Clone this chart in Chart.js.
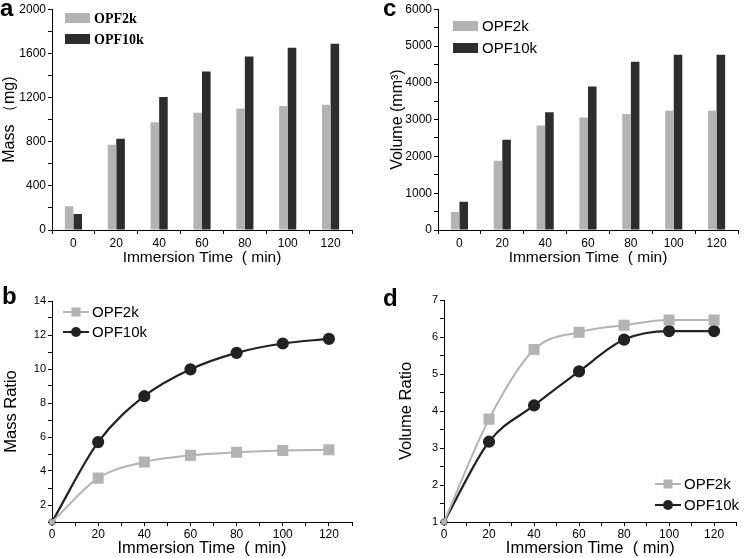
<!DOCTYPE html>
<html>
<head>
<meta charset="utf-8">
<script src="https://cdn.jsdelivr.net/npm/chart.js@4.4.1/dist/chart.umd.min.js"></script>
<style>
  body { margin: 0; background: #fff; }
  #wrap { position: relative; width: 745px; height: 558px; overflow: hidden; }
  canvas { position: absolute; }
  .tag { position: absolute; font: bold 24px "Liberation Sans", Arial, sans-serif; color: #000; line-height: 1; }
</style>
</head>
<body>
<div id="wrap">
  <canvas id="cA" width="372" height="270" style="left:0;top:0"></canvas>
  <canvas id="cC" width="373" height="270" style="left:372px;top:0"></canvas>
  <canvas id="cB" width="372" height="288" style="left:0;top:270px"></canvas>
  <canvas id="cD" width="373" height="288" style="left:372px;top:270px"></canvas>
  <div class="tag" style="left:0;top:-4px">a</div>
  <div class="tag" style="left:383px;top:-4px">c</div>
  <div class="tag" style="left:2px;top:284px">b</div>
  <div class="tag" style="left:383px;top:286px">d</div>
</div>
<script>
// immersion times (min)
var times = [0, 20, 40, 60, 80, 100, 120];
var seriesNames = ['OPF2k', 'OPF10k'];

// a: mass (mg)
var mass2k  = [215, 772, 975, 1063, 1100, 1124, 1134];
var mass10k = [145, 826, 1204, 1435, 1572, 1650, 1688];

// c: volume (mm3)
var vol2k  = [488, 1885, 2840, 3055, 3155, 3238, 3240];
var vol10k = [768, 2450, 3200, 3900, 4570, 4760, 4760];

// b: mass ratio
var mratio2k  = [1, 3.58, 4.53, 4.92, 5.1, 5.21, 5.25];
var mratio10k = [1, 5.7, 8.4, 9.98, 10.95, 11.5, 11.77];

// d: volume ratio
var vratio2k  = [1, 3.78, 5.66, 6.13, 6.32, 6.46, 6.46];
var vratio10k = [1, 3.17, 4.15, 5.07, 5.93, 6.16, 6.16];

var LIGHT = '#b3b3b3';
var DARK = '#2d2d2d';
var SANS = '"Liberation Sans", Arial, sans-serif';
var XTITLE = 'Immersion Time  ( min)';

function pts(ys) {
  return times.map(function (t, i) { return { x: t, y: ys[i] }; });
}

// legend drawn in the plot, items stacked vertically
var stackLegend = {
  id: 'stackLegend',
  afterDraw: function (chart) {
    var o = chart.options.plugins.stackLegend;
    if (!o) return;
    var ctx = chart.ctx;
    ctx.save();
    ctx.font = o.font;
    ctx.textBaseline = 'middle';
    chart.data.datasets.forEach(function (ds, i) {
      var y = o.y + i * o.gap;
      if (o.kind === 'box') {
        ctx.fillStyle = ds.backgroundColor;
        ctx.fillRect(o.x, y - 5, 25, 10);
      } else {
        ctx.strokeStyle = ds.borderColor;
        ctx.lineWidth = 2;
        ctx.beginPath();
        ctx.moveTo(o.x, y);
        ctx.lineTo(o.x + 26, y);
        ctx.stroke();
        ctx.fillStyle = ds.borderColor;
        if (ds.pointStyle === 'rect') {
          ctx.fillRect(o.x + 13 - 4.5, y - 4.5, 9, 9);
        } else {
          ctx.beginPath();
          ctx.arc(o.x + 13, y, 5, 0, Math.PI * 2);
          ctx.fill();
        }
      }
      ctx.fillStyle = '#000';
      ctx.fillText(ds.label, o.x + 29, y + 1);
    });
    ctx.restore();
  }
};

function barChart(id, d2, d10, yMax, yStep, yLabelEvery, yTitle, yAxisW, titlePad, padRight, legend) {
  return new Chart(document.getElementById(id), {
    type: 'bar',
    data: {
      labels: times,
      datasets: [
        { label: seriesNames[0], data: d2, backgroundColor: LIGHT, barPercentage: 1, categoryPercentage: 0.4 },
        { label: seriesNames[1], data: d10, backgroundColor: DARK, barPercentage: 1, categoryPercentage: 0.4 }
      ]
    },
    options: {
      responsive: false,
      animation: false,
      layout: { padding: { top: 8, right: padRight, bottom: 0, left: 0 } },
      plugins: { legend: { display: false }, tooltip: { enabled: false }, stackLegend: legend },
      scales: {
        x: {
          grid: { display: true, drawOnChartArea: false, offset: true, tickLength: 4, color: '#000' },
          border: { color: '#000', width: 1 },
          ticks: { color: '#000', font: { family: SANS, size: 12 }, padding: 2, maxRotation: 0 },
          title: { display: true, text: XTITLE, color: '#000', font: { family: SANS, size: 15.5 }, padding: { top: 0, bottom: 3 } },
          afterFit: function (s) { s.height = 40; }
        },
        y: {
          min: 0, max: yMax,
          grid: { display: true, drawOnChartArea: false, tickLength: 4, color: '#000' },
          border: { color: '#000', width: 1 },
          ticks: {
            stepSize: yStep, color: '#000', font: { family: SANS, size: 12 }, padding: 2,
            callback: function (v) { return v % yLabelEvery === 0 ? v : ''; }
          },
          title: { display: true, text: yTitle, color: '#000', font: { family: SANS, size: 16 }, padding: { top: titlePad, bottom: 0 } },
          afterFit: function (s) { s.width = yAxisW; }
        }
      }
    },
    plugins: [stackLegend]
  });
}

function lineChart(id, d2, d10, yMin, yMax, yStep, yLabelEvery, yTitle, yAxisW, titlePad, padTop, padRight, legend) {
  var rad = function (big) {
    return function (c) { return c.dataIndex === 0 ? 2.5 : big; };
  };
  return new Chart(document.getElementById(id), {
    type: 'line',
    data: {
      datasets: [
        { label: seriesNames[0], data: pts(d2), borderColor: LIGHT, backgroundColor: LIGHT, borderWidth: 2,
          pointStyle: 'rect', pointRadius: rad(6.4), cubicInterpolationMode: 'monotone', clip: false },
        { label: seriesNames[1], data: pts(d10), borderColor: '#222', backgroundColor: '#222', borderWidth: 2.2,
          pointStyle: 'circle', pointRadius: rad(5), cubicInterpolationMode: 'monotone', clip: false }
      ]
    },
    options: {
      responsive: false,
      animation: false,
      layout: { padding: { top: padTop, right: padRight, bottom: 0, left: 0 } },
      plugins: { legend: { display: false }, tooltip: { enabled: false }, stackLegend: legend },
      scales: {
        x: {
          type: 'linear', min: 0, max: 130,
          grid: { display: true, drawOnChartArea: false, tickLength: 4, color: '#000' },
          border: { color: '#000', width: 1 },
          ticks: {
            stepSize: 10, color: '#000', font: { family: SANS, size: 12 }, padding: 1, maxRotation: 0, autoSkip: false,
            callback: function (v) { return (v % 20 === 0 && v <= 120) ? v : ''; }
          },
          title: { display: true, text: XTITLE, color: '#000', font: { family: SANS, size: 16.5 }, padding: { top: 0, bottom: 0 } },
          afterFit: function (s) { s.height = 36; }
        },
        y: {
          min: yMin, max: yMax,
          grid: { display: true, drawOnChartArea: false, tickLength: 4, color: '#000' },
          border: { color: '#000', width: 1 },
          ticks: {
            stepSize: yStep, color: '#000', font: { family: SANS, size: 11 }, padding: 2, autoSkip: false,
            callback: function (v) { return v % yLabelEvery === 0 ? v : ''; }
          },
          title: { display: true, text: yTitle, color: '#000', font: { family: SANS, size: 16.5 }, padding: { top: titlePad, bottom: 0 } },
          afterFit: function (s) { s.width = yAxisW; }
        }
      }
    },
    plugins: [stackLegend]
  });
}

barChart('cA', mass2k, mass10k, 2000, 200, 400, 'Mass （mg)', 52, 0, 20,
  { kind: 'box', x: 65, y: 18, gap: 21, font: 'bold 14px "Liberation Serif", "Times New Roman", serif' });
barChart('cC', vol2k, vol10k, 6000, 500, 1000, 'Volume (mm³)', 66, 16, 7,
  { kind: 'box', x: 81, y: 26, gap: 22, font: '15px ' + SANS });
lineChart('cB', mratio2k, mratio10k, 1, 14, 1, 2, 'Mass Ratio', 52, 2, 31, 20,
  { kind: 'line', x: 63, y: 42, gap: 20, font: '15px ' + SANS });
lineChart('cD', vratio2k, vratio10k, 1, 7, 0.5, 1, 'Volume Ratio', 72, 25, 30, 2,
  { kind: 'line', x: 283, y: 214, gap: 21, font: '15px ' + SANS });
</script>
</body>
</html>
